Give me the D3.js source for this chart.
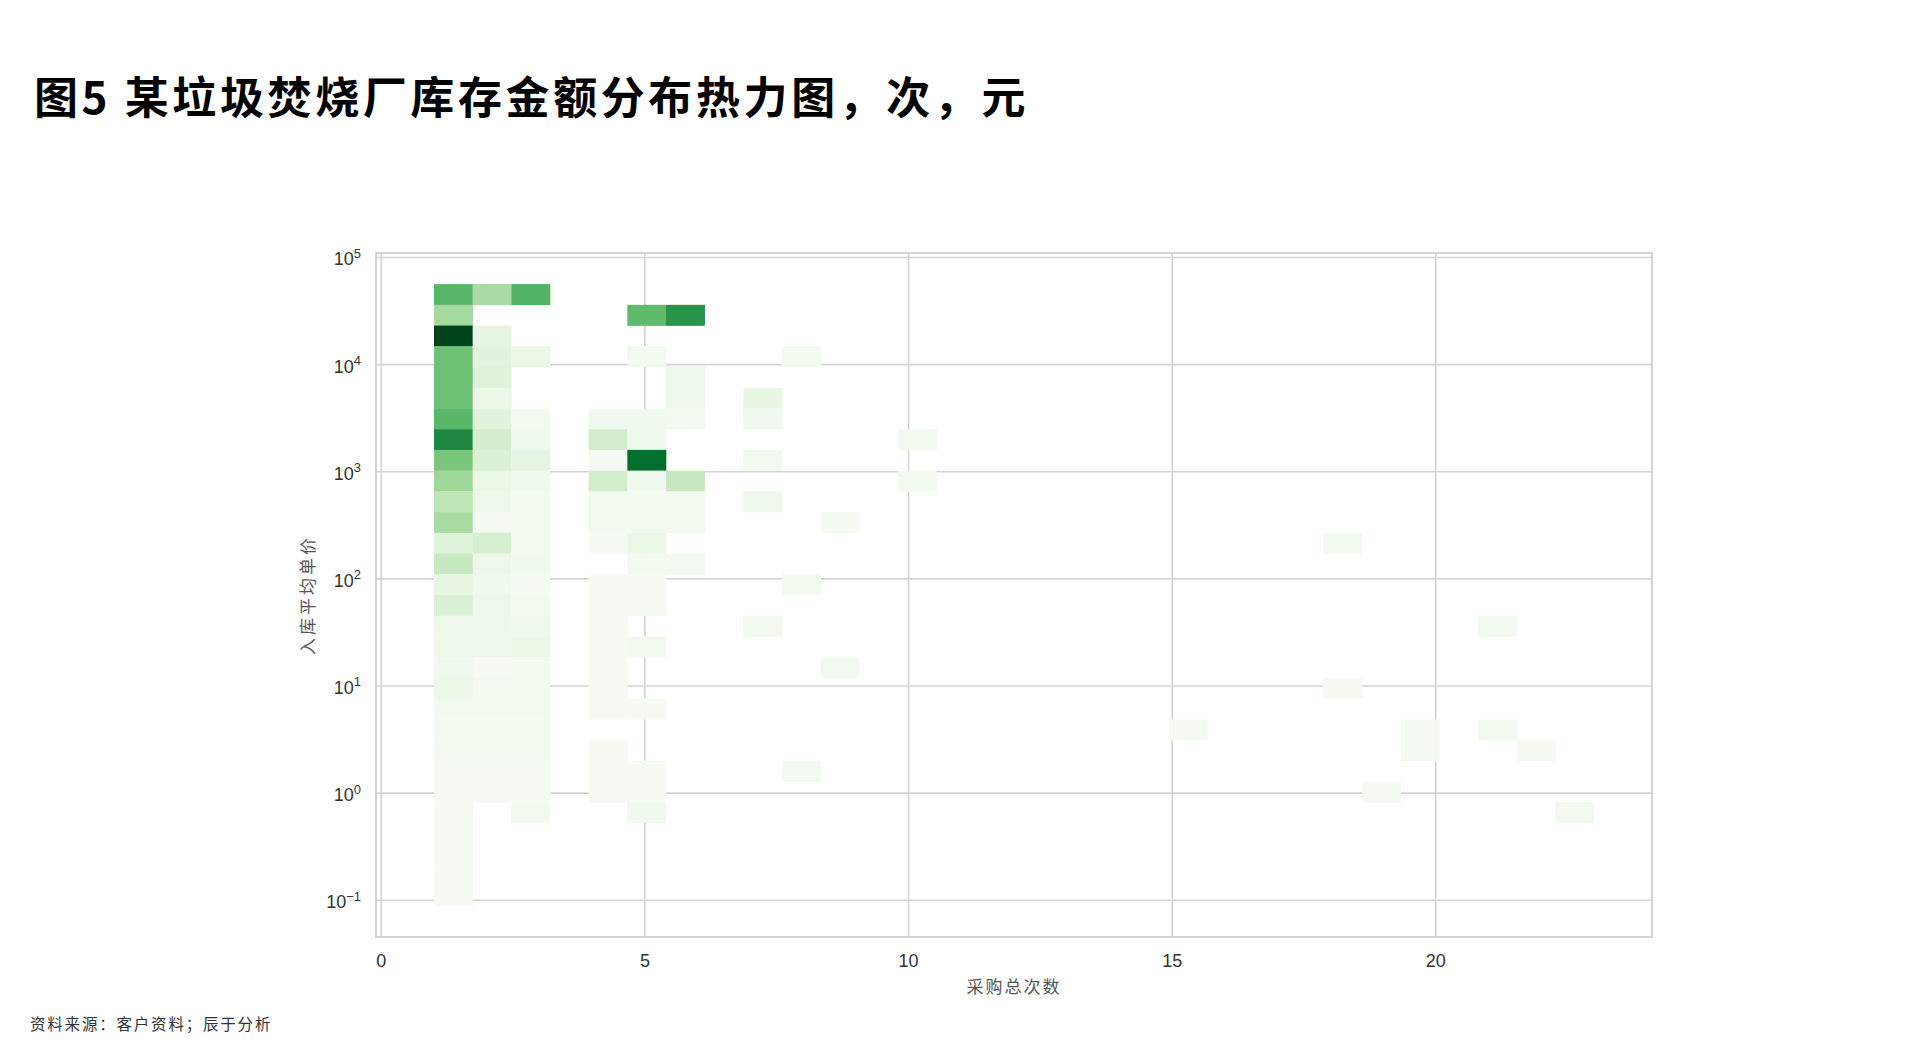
<!DOCTYPE html>
<html><head><meta charset="utf-8">
<script src="https://cdn.jsdelivr.net/npm/d3@7"></script>
<style>
html,body{margin:0;padding:0;background:#fff;}
svg{display:block;}
</style></head><body>
<svg id="chart" width="1920" height="1043"></svg>
<script>
// ---------------- data ----------------
const titleText = "图5 某垃圾焚烧厂库存金额分布热力图，次，元";
const xLabelText = "采购总次数";
const yLabelText = "入库平均单价";
const sourceText = "资料来源：客户资料；辰于分析";
const xTickValues = [0, 5, 10, 15, 20];
const yTickExponents = [-1, 0, 1, 2, 3, 4, 5];
const xDataRange = [1, 23];          // 采购总次数 extent
const yDataRange = [0.0885, 56400];  // 入库平均单价 extent (log-binned)
const binCount = 30;
// non-empty cells: x-bin index (left→right), y-bin index (top→bottom), count
const cellXBin = [
  0,0,0,0,0,0,0,0,0,0,0,0,0,0,0,0,0,0,0,0,0,0,0,0,0,0,0,0,0,0,
  1,1,1,1,1,1,1,1,1,1,1,1,1,1,1,1,1,1,1,1,1,1,1,1,
  2,2,2,2,2,2,2,2,2,2,2,2,2,2,2,2,2,2,2,2,2,2,
  4,4,4,4,4,4,4,4,4,4,4,4,4,4,4,4,4,
  5,5,5,5,5,5,5,5,5,5,5,5,5,5,5,5,5,
  6,6,6,6,6,6,6,6,
  8,8,8,8,8, 9,9,9, 10,10, 12,12, 19, 23,23, 24, 25,25, 27,27, 28, 29
];
const cellYBin = [
  0,1,2,3,4,5,6,7,8,9,10,11,12,13,14,15,16,17,18,19,20,21,22,23,24,25,26,27,28,29,
  0,2,3,4,5,6,7,8,9,10,11,12,13,14,15,16,17,18,19,20,21,22,23,24,
  0,3,6,7,8,9,10,11,12,13,14,15,16,17,18,19,20,21,22,23,24,25,
  6,7,8,9,10,11,12,14,15,16,17,18,19,20,22,23,24,
  1,3,6,7,8,9,10,11,12,13,14,15,17,20,23,24,25,
  1,4,5,6,9,10,11,13,
  5,6,8,10,16, 3,14,23, 11,18, 7,9, 21, 12,19, 24, 21,22, 16,21, 22, 25
];
const cellCount = [
  34,22,60,31,31,31,34,46,29,23,17,21,9,15,6,10,4,4,3,5,2,2,2,1,1,1,1,1,1,1,
  21,7,8,9,5,8,12,10,5,4,1,11,4,3,4,4,4,1,2,2,2,2,1,1,
  35,5,2,3,7,3,2,2,2,3,1,2,4,5,2,2,2,2,2,1,1,2,
  3,12,1,12,2,2,1,1,1,1,1,1,1,1,1,1,1,
  33,2,3,3,52,3,2,2,5,2,1,1,2,1,1,1,3,
  43,4,4,2,15,2,2,2,
  6,3,2,4,2, 2,2,2, 1,2, 2,2, 1, 2,1, 1, 1,1, 2,2, 1, 2
];
const greensStops = ["#f7fcf5","#e5f5e0","#c7e9c0","#a1d99b","#74c476","#41ab5d","#238b45","#006d2c","#00441b"];

// ---------------- layout ----------------
const svg = d3.select("#chart");
const plot = {left: 376, right: 1652, top: 253, bottom: 937};

// matplotlib-like 5% margins
const xPad = (xDataRange[1] - xDataRange[0]) * 0.05;
const x = d3.scaleLinear()
  .domain([xDataRange[0] - xPad, xDataRange[1] + xPad])
  .range([plot.left, plot.right]);
const lMin = Math.log10(yDataRange[0]), lMax = Math.log10(yDataRange[1]);
const lPad = (lMax - lMin) * 0.05;
const y = d3.scaleLog()
  .domain([Math.pow(10, lMin - lPad), Math.pow(10, lMax + lPad)])
  .range([plot.bottom, plot.top]);

const xEdges = d3.range(binCount + 1).map(i => xDataRange[0] + i * (xDataRange[1] - xDataRange[0]) / binCount);
// log edges, index 0 = top
const yEdges = d3.range(binCount + 1).map(i => Math.pow(10, lMax - i * (lMax - lMin) / binCount));

const maxCount = d3.max(cellCount);
const color = d3.scaleLinear()
  .domain(greensStops.map((d, i) => i / (greensStops.length - 1) * maxCount))
  .range(greensStops)
  .clamp(true);

// gridlines
const grid = svg.append("g");
grid.selectAll("line.vx").data(xTickValues).join("line")
  .attr("x1", d => x(d)).attr("x2", d => x(d))
  .attr("y1", plot.top).attr("y2", plot.bottom)
  .attr("stroke", "#d4d4d4").attr("stroke-width", 1.6);
grid.selectAll("line.hy").data(yTickExponents).join("line")
  .attr("x1", plot.left).attr("x2", plot.right)
  .attr("y1", d => y(Math.pow(10, d))).attr("y2", d => y(Math.pow(10, d)))
  .attr("stroke", "#d4d4d4").attr("stroke-width", 1.6);

// cells
const cells = cellCount.map((c, i) => ({k: cellXBin[i], r: cellYBin[i], c}));
svg.append("g").selectAll("rect").data(cells).join("rect")
  .attr("x", d => x(xEdges[d.k]))
  .attr("width", d => x(xEdges[d.k + 1]) - x(xEdges[d.k]) + 0.3)
  .attr("y", d => y(yEdges[d.r]))
  .attr("height", d => y(yEdges[d.r + 1]) - y(yEdges[d.r]) + 0.3)
  .attr("fill", d => color(d.c));

// spines
svg.append("rect")
  .attr("x", plot.left).attr("y", plot.top)
  .attr("width", plot.right - plot.left).attr("height", plot.bottom - plot.top)
  .attr("fill", "none").attr("stroke", "#d0d0d0").attr("stroke-width", 1.8);

// x tick labels
svg.append("g").selectAll("text").data(xTickValues).join("text")
  .attr("x", d => x(d)).attr("y", 967)
  .attr("text-anchor", "middle")
  .attr("font-family", "'Liberation Sans', Arial, sans-serif")
  .attr("font-size", 18).attr("fill", "#333")
  .text(d => d);

// y tick labels (10^n)
const yt = svg.append("g").selectAll("text").data(yTickExponents).join("text")
  .attr("x", 361).attr("y", d => y(Math.pow(10, d)) + 8)
  .attr("text-anchor", "end")
  .attr("font-family", "'Liberation Sans', Arial, sans-serif")
  .attr("font-size", 18).attr("fill", "#333");
yt.append("tspan").text("10");
yt.append("tspan").attr("dy", -7.5).attr("font-size", 13)
  .text(d => d < 0 ? "\u2212" + Math.abs(d) : d);

// axis labels
svg.append("text")
  .attr("x", (plot.left + plot.right) / 2).attr("y", 993)
  .attr("text-anchor", "middle")
  .attr("font-family", "'Noto Sans CJK SC', sans-serif")
  .attr("font-size", 17).attr("letter-spacing", 2).attr("fill", "#555")
  .text(xLabelText);
svg.append("text")
  .attr("transform", `translate(314,${(plot.top + plot.bottom) / 2}) rotate(-90)`)
  .attr("text-anchor", "middle")
  .attr("font-family", "'Noto Sans CJK SC', sans-serif")
  .attr("font-size", 17).attr("letter-spacing", 3).attr("fill", "#555")
  .text(yLabelText);

// title
svg.append("text")
  .attr("x", 34).attr("y", 114)
  .attr("font-family", "'Noto Sans CJK SC', sans-serif")
  .attr("font-weight", "bold")
  .attr("font-size", 44).attr("letter-spacing", 3.6).attr("fill", "#000")
  .text(titleText);

// source
svg.append("text")
  .attr("x", 30).attr("y", 1030)
  .attr("font-family", "'Noto Sans CJK SC', sans-serif")
  .attr("font-size", 15.5).attr("letter-spacing", 1.8).attr("fill", "#333")
  .text(sourceText);
</script>
</body></html>
